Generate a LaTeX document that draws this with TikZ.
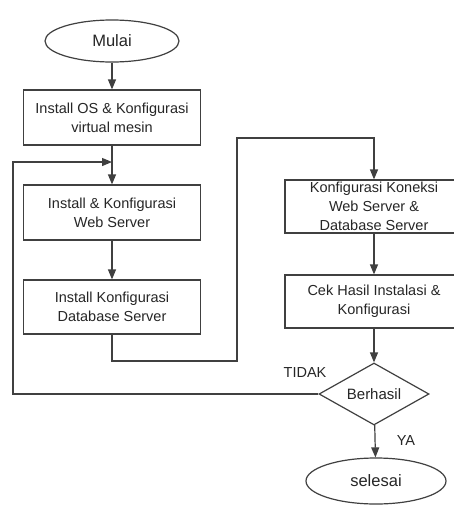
\documentclass[tikz,border=0pt]{standalone}
\usepackage{fontspec}
\setmainfont{Liberation Sans}
\usetikzlibrary{shapes.geometric,arrows.meta}
\begin{document}
\begin{tikzpicture}[x=1pt,y=-1pt,
  line width=1.2pt,
  every node/.style={text=black!85, font=\fontsize{14.5}{19}\selectfont},
  boxstyle/.style={draw=black!75, rectangle, align=center, inner sep=0pt},
  ovalstyle/.style={draw=black!75, ellipse, inner sep=0pt, minimum width=134, minimum height=42, font=\fontsize{16.5}{20}\selectfont},
  dec/.style={draw=black!75, diamond, aspect=1.77, inner sep=0pt, minimum width=110, minimum height=62, font=\fontsize{15}{19}\selectfont},
  conn/.style={draw=black!75},
  arr/.style={conn, -{Triangle[length=10pt,width=8pt]}}]
\useasboundingbox[fill=white] (0,0) rectangle (454,507);
\node[ovalstyle] (mulai) at (112,41) {Mulai};
\node[boxstyle, minimum width=177, minimum height=55] (b1) at (112,117.5) {Install OS \& Konfigurasi\\virtual mesin};
\node[boxstyle, minimum width=177, minimum height=55] (b2) at (112,212.5) {Install \& Konfigurasi\\Web Server};
\node[boxstyle, minimum width=177, minimum height=54] (b3) at (112,307) {Install Konfigurasi\\Database Server};
\node[boxstyle, minimum width=178, minimum height=53] (b4) at (374,206.5) {Konfigurasi Koneksi\\Web Server \&\\Database Server};
\node[boxstyle, minimum width=178, minimum height=53] (b5) at (374,301.5) {Cek Hasil Instalasi \&\\Konfigurasi};
\node[dec] (d) at (374,394) {Berhasil};
\node[ovalstyle, minimum width=140, minimum height=46] (sel) at (376,481) {selesai};
\node (tidak) at (305,373) {TIDAK};
\node (ya) at (406,441) {YA};
\coordinate (fb) at (112,162);
\draw[arr] (mulai) -- (b1);
\draw[arr] (b1) -- (b2);
\draw[arr] (b2) -- (b3);
\draw[arr] (b3.south) |- (237,361) |- (374,138) -- (b4.north);
\draw[arr] (b4) -- (b5);
\draw[arr] (b5) -- (d);
\draw[arr] (d) -- (sel);
\draw[arr] (d.west) -- (13,394) |- (fb);
\end{tikzpicture}
\end{document}
